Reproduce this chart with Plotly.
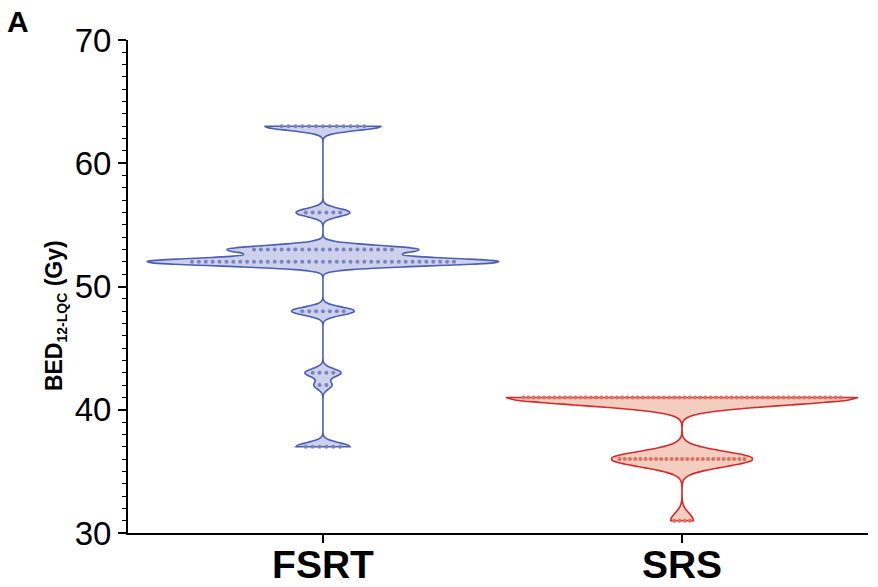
import numpy as np
import plotly.graph_objects as go

# ---- data ----
categories = ["FSRT", "SRS"]
fsrt_levels = [63, 56, 53, 52, 48, 43, 42, 37]
fsrt_counts = [13, 6, 21, 39, 7, 4, 2, 6]
srs_levels = [41, 36, 31]
srs_counts = [62, 25, 4]
y_ticks = [30, 40, 50, 60, 70]

def expand(levels, counts):
    return np.repeat(np.array(levels, dtype=float), counts)

fsrt_vals = expand(fsrt_levels, fsrt_counts)
srs_vals = expand(srs_levels, srs_counts)

styles = {
    "FSRT": dict(line="#4a5fb5", fill="#cdd1ec", dot="#7a84c2", bw=0.33, spacing=0.0192),
    "SRS": dict(line="#d62b2b", fill="#f3cdc0", dot="#df6f60", bw=0.62, spacing=0.0145),
}

fig = go.Figure()
for i, (name, vals, levels, counts) in enumerate([
    ("FSRT", fsrt_vals, fsrt_levels, fsrt_counts),
    ("SRS", srs_vals, srs_levels, srs_counts),
]):
    st = styles[name]
    fig.add_trace(go.Violin(
        y=vals, x0=i, name=name, orientation="v",
        spanmode="hard", bandwidth=st["bw"], width=0.98, scalemode="width",
        fillcolor=st["fill"], line=dict(color=st["line"], width=1.6),
        points=False, box_visible=False, meanline_visible=False,
        showlegend=False, hoverinfo="skip",
    ))
    xs, ys = [], []
    for lv, n in zip(levels, counts):
        offs = (np.arange(n) - (n - 1) / 2) * st["spacing"]
        xs.extend(list(i + offs))
        ys.extend([lv] * n)
    fig.add_trace(go.Scatter(
        x=xs, y=ys, mode="markers",
        marker=dict(size=4, color=st["dot"], line=dict(width=0)),
        showlegend=False, hoverinfo="skip",
    ))

fig.update_layout(
    width=878, height=587,
    margin=dict(l=128, r=10, t=40, b=54),
    paper_bgcolor="white", plot_bgcolor="white",
    violinmode="overlay",
    font=dict(family="Liberation Sans, Arial, sans-serif", color="black"),
)
fig.update_xaxes(
    range=[-0.543, 1.518], tickvals=[0, 1],
    ticktext=["<b>%s</b>" % c for c in categories],
    tickfont=dict(size=39, family="Liberation Sans, Arial, sans-serif"),
    showline=True, linecolor="black", linewidth=2,
    ticks="outside", ticklen=8, tickwidth=1.5, tickcolor="black",
    ticklabelstandoff=-12,
    showgrid=False, zeroline=False, automargin=False,
)
fig.update_yaxes(
    range=[30, 70], tickvals=y_ticks,
    tickfont=dict(size=33, family="Liberation Sans, Arial, sans-serif"),
    showline=True, linecolor="black", linewidth=2,
    ticks="outside", ticklen=8, tickwidth=1.5, tickcolor="black",
    minor=dict(dtick=1, ticks="outside", ticklen=4, tickcolor="black", tickwidth=1.2, showgrid=False),
    showgrid=False, zeroline=False, automargin=False,
)
fig.add_annotation(
    text="<b>BED<sub><span style=\"font-size:14px\">12-LQC</span></sub> (Gy)</b>", textangle=-90,
    xref="paper", yref="paper", x=0, y=0.44, xanchor="center", yanchor="middle",
    xshift=-73, showarrow=False,
    font=dict(size=23, family="Liberation Sans, Arial, sans-serif", color="black"),
)
fig.add_annotation(
    text="<b>A</b>", xref="paper", yref="paper", x=0, y=1,
    xshift=-110, yshift=19, xanchor="center", yanchor="middle", showarrow=False,
    font=dict(size=30, family="Liberation Sans, Arial, sans-serif", color="black"),
)
fig.write_html("out.html")
